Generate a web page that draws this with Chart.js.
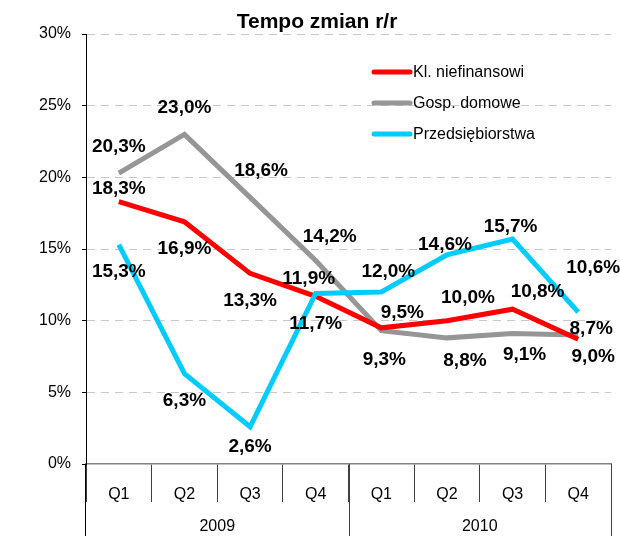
<!DOCTYPE html>
<html>
<head>
<meta charset="utf-8">
<script src="https://cdn.jsdelivr.net/npm/chart.js@4.4.0/dist/chart.umd.min.js"></script>
<style>
  html, body { margin: 0; padding: 0; background: #fff; }
</style>
</head>
<body>
<canvas id="myChart" width="620" height="536"></canvas>
<script>
'use strict';

// ******** DATA ********

let quarters = ['Q1', 'Q2', 'Q3', 'Q4', 'Q1', 'Q2', 'Q3', 'Q4'];
let years = ['2009', '2010'];
let yTicks = [0, 5, 10, 15, 20, 25, 30];

let seriesNames = ['Kl. niefinansowi', 'Gosp. domowe', 'Przedsiębiorstwa'];
let klNiefinansowi = [18.3, 16.9, 13.3, 11.7, 9.5, 10.0, 10.8, 8.7];
let gospDomowe = [20.3, 23.0, 18.6, 14.2, 9.3, 8.8, 9.1, 9.0];
let przedsiebiorstwa = [15.3, 6.3, 2.6, 11.9, 12.0, 14.6, 15.7, 10.6];

let colors = ['#ff0000', '#969696', '#00ccff'];

// where each value label sits relative to its point (dx, dy in px)
let labelShift = [
  [[0, -13], [0, 27], [0, 27], [0, 27], [21, -15], [21, -23], [25, -17], [13, -11]],
  [[0, -26], [0, -27], [11, -27], [14, -24], [3, 29], [18, 23], [12, 21], [15, 22]],
  [[0, 27], [0, 27], [0, 20], [-7, -15], [7, -20], [-2, -10], [-2, -12], [15, -44]]
];

let fontFamily = '"Liberation Sans", Arial, sans-serif';

// ********** PLUGINS ***********

let titlePlugin = {
  id: 'titleText',
  afterDraw(chart) {
    let ctx = chart.ctx;
    ctx.save();
    ctx.font = 'bold 21px ' + fontFamily;
    ctx.fillStyle = '#000';
    ctx.textAlign = 'center';
    ctx.textBaseline = 'middle';
    ctx.fillText('Tempo zmian r/r', 317, 22);
    ctx.restore();
  }
};

let legendPlugin = {
  id: 'sideLegend',
  afterDraw(chart) {
    let ctx = chart.ctx;
    ctx.save();
    chart.data.datasets.forEach(function (ds, i) {
      let y = 72 + i * 31;
      ctx.strokeStyle = ds.borderColor;
      ctx.lineWidth = 5;
      ctx.lineCap = 'round';
      ctx.beginPath();
      ctx.moveTo(374, y);
      ctx.lineTo(410, y);
      ctx.stroke();
      ctx.fillStyle = '#000';
      ctx.font = '16px ' + fontFamily;
      ctx.textAlign = 'left';
      ctx.textBaseline = 'middle';
      ctx.fillText(ds.label, 413, y + 1);
    });
    ctx.restore();
  }
};

let valueLabels = {
  id: 'valueLabels',
  afterDatasetsDraw(chart) {
    let ctx = chart.ctx;
    ctx.save();
    ctx.font = 'bold 19px ' + fontFamily;
    ctx.fillStyle = '#000';
    ctx.textAlign = 'center';
    ctx.textBaseline = 'middle';
    chart.data.datasets.forEach(function (ds, i) {
      let meta = chart.getDatasetMeta(i);
      meta.data.forEach(function (pt, j) {
        let shift = labelShift[i][j];
        let txt = ds.data[j].toFixed(1).replace('.', ',') + '%';
        ctx.fillText(txt, pt.x + shift[0], pt.y + shift[1]);
      });
    });
    ctx.restore();
  }
};

let yearRow = {
  id: 'yearRow',
  afterDraw(chart) {
    let ctx = chart.ctx;
    let xs = chart.scales.x;
    let top = chart.chartArea.bottom;
    let bottom = chart.height;
    let half = (xs.getPixelForValue(3) + xs.getPixelForValue(4)) / 2;
    ctx.save();
    ctx.lineWidth = 1;
    ctx.strokeStyle = '#000';
    ctx.beginPath();
    ctx.moveTo(Math.round(xs.left) - 0.5, top);
    ctx.lineTo(Math.round(xs.left) - 0.5, bottom);
    ctx.stroke();
    ctx.strokeStyle = '#404040';
    [half, xs.right].forEach(function (x) {
      ctx.beginPath();
      ctx.moveTo(Math.round(x) + 0.5, top);
      ctx.lineTo(Math.round(x) + 0.5, bottom);
      ctx.stroke();
    });
    ctx.fillStyle = '#000';
    ctx.font = '16px ' + fontFamily;
    ctx.textAlign = 'center';
    ctx.textBaseline = 'middle';
    years.forEach(function (yr, k) {
      let a = xs.getPixelForValue(k * 4 + 1);
      let b = xs.getPixelForValue(k * 4 + 2);
      ctx.fillText(yr, (a + b) / 2, 527);
    });
    ctx.restore();
  }
};

// ********** CHART ***********

let ctx = document.getElementById('myChart').getContext('2d');

let myChartObj = {
  type: 'line',
  data: {
    labels: quarters,
    datasets: [{
      label: seriesNames[0],
      data: klNiefinansowi,
      borderColor: colors[0],
      backgroundColor: colors[0],
      order: 1
    },
    {
      label: seriesNames[1],
      data: gospDomowe,
      borderColor: colors[1],
      backgroundColor: colors[1],
      order: 2
    },
    {
      label: seriesNames[2],
      data: przedsiebiorstwa,
      borderColor: colors[2],
      backgroundColor: colors[2],
      order: 0
    }]
  },
  options: {
    responsive: false,
    animation: false,
    layout: {
      padding: { top: 34, right: 9, left: 0, bottom: 0 }
    },
    elements: {
      point: { radius: 0, hoverRadius: 0 },
      line: { tension: 0, borderWidth: 5, borderJoinStyle: 'miter' }
    },
    plugins: {
      legend: { display: false },
      title: { display: false },
      tooltip: { enabled: false }
    },
    scales: {
      x: {
        offset: true,
        grid: {
          offset: true,
          drawOnChartArea: false,
          drawTicks: true,
          tickLength: 38,
          tickColor: '#404040',
          color: '#404040'
        },
        border: { color: '#808080', width: 1.5 },
        ticks: {
          padding: -17,
          color: '#000',
          maxRotation: 0,
          autoSkip: false,
          font: { family: fontFamily, size: 16 }
        },
        afterFit: function (scale) {
          scale.height = 72;
        }
      },
      y: {
        min: 0,
        max: 30,
        afterBuildTicks: function (scale) {
          scale.ticks = yTicks.map(function (v) { return { value: v }; });
        },
        grid: {
          color: function (c) {
            return c.tick && c.tick.value === 0 ? 'rgba(0,0,0,0)' : '#c8c8c8';
          },
          tickColor: '#000',
          tickLength: 4
        },
        border: { color: '#000', width: 1, dash: [8, 6] },
        ticks: {
          padding: 11,
          color: '#000',
          font: { family: fontFamily, size: 16 },
          callback: function (v) { return v + '%'; }
        },
        afterFit: function (scale) {
          scale.width = 86;
        }
      }
    }
  },
  plugins: [valueLabels, yearRow, legendPlugin, titlePlugin]
};

new Chart(ctx, myChartObj);
</script>
</body>
</html>
